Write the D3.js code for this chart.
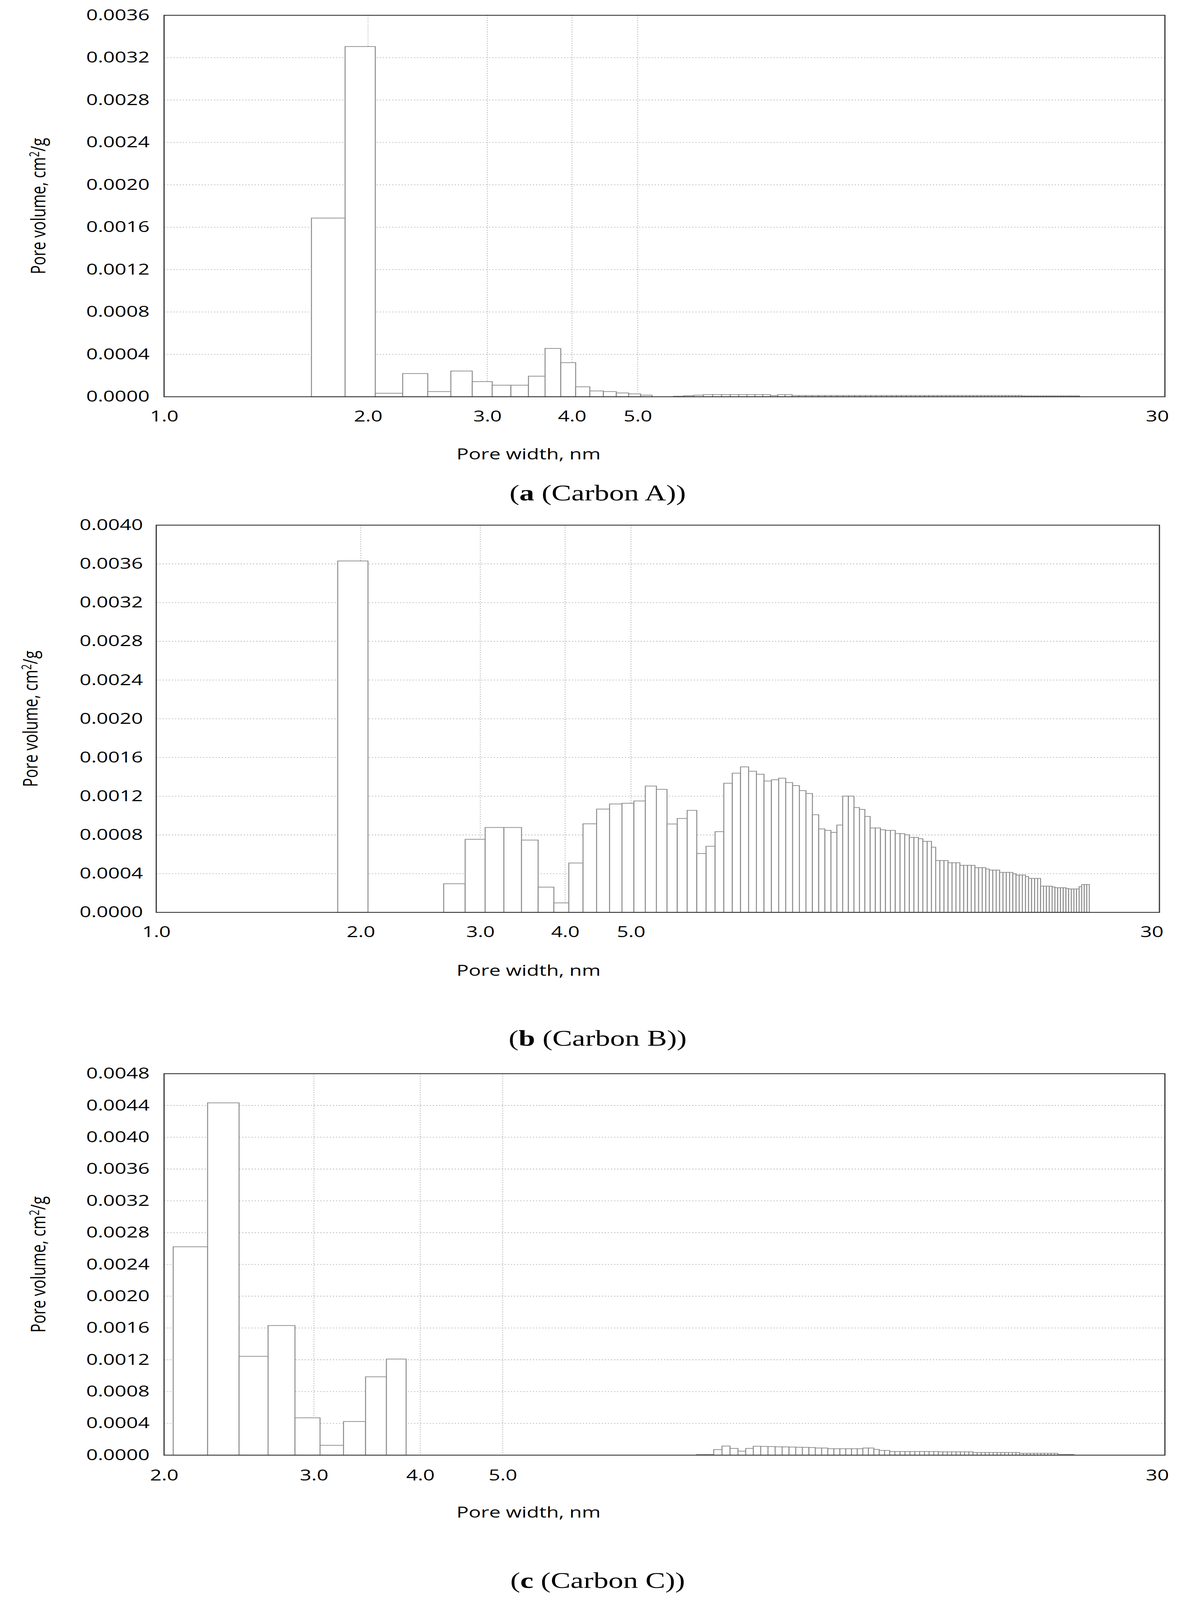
<!DOCTYPE html>
<html><head><meta charset="utf-8">
<script src="https://cdn.jsdelivr.net/npm/d3@7"></script>
<style>html,body{margin:0;padding:0;background:#fff;overflow:hidden;width:100%;height:100%}svg{display:block}</style>
</head><body>
<svg id="c" viewBox="0 0 3036 5545" preserveAspectRatio="none" style="width:100vw;height:100vh"></svg>
<script>
const BIN_WIDTH = 0.2;
// Carbon A
const carbonA_mainStart = 1.65;
const carbonA_main = [0.001686,0.003305,0.000033,0.000219,0.000049,0.000243,0.000143,0.000109,0.000109,0.000194,0.000456,0.000322,0.000094,0.000055,0.000049,0.000036,0.000027,0.000015];
const carbonA_tailStart = 5.65;
const carbonA_tail = [0.000005,0.00001,0.000015,0.00002,0.00002,0.00002,0.00002,0.00002,0.00002,0.00002,0.00002,0.000012,0.00002,0.00002,
 0.000012,0.000012,0.000012,0.000012,0.000012,0.000012,0.000012,0.000012,0.000012,0.000012,
 0.000012,0.000012,0.000012,0.000012,0.000012,0.000012,0.000012,0.000012,0.000012,0.000012,
 0.000012,0.000012,0.000012,0.000012,0.000012,0.000012,0.000012,0.000012,0.000012,0.000012,
 0.000012,0.000012,0.000012,0.000012,0.000012,0.000012,0.000012,0.000012,0.000012,0.000012,
 0.000012,0.000012,0.000012,0.000012,0.000012,0.000012,0.000012,0.000012,0.000012,0.000012,
 0.000008,0.000008,0.000008,0.000008,0.000008,0.000008,0.000008,0.000008,0.000008,0.000008,
 0.000008,0.000008,0.000008,0.000008,0.000008,0.000008,0.000008,0.000008,0.000008,0.000008];
// Carbon B
const carbonB_peakStart = 1.85;
const carbonB_peak = [0.00363];
const carbonB_mainStart = 2.65;
const carbonB_main = [0.000296,0.000755,0.000877,0.000877,0.000747,0.000261,0.000098,0.00051,0.000915,0.001067,0.00112,0.001127,0.001151,0.001305,0.001271,
 0.000913,0.00097,0.001054,0.000608,0.000683,0.000834,0.001334,0.001438,0.001503,0.001458,0.001427,0.001357,0.00137,0.001386,0.001341,0.00131,0.001258,0.001228,0.001009,0.000862,0.000847,0.000826,0.000902,0.001201,0.001201,0.001083,0.001064,0.000991,0.000872,0.000872,0.000853,0.000847,0.000847,0.000815,
 0.000813,0.000801,0.000775,0.000775,0.000761,0.000734,0.000734,0.000674,0.000536,0.000536,0.000536,0.000513,0.000513,0.000513,0.000486,0.000486,0.000486,0.000486,0.000462,0.000462,0.000462,0.000448,0.000437,0.000437,0.000437,0.000413,0.000413,0.000413,0.000413,0.000399,0.000386,0.000386,0.000386,0.00037,0.000351,0.000351,0.000351,0.000351,0.000271,0.000271,0.000271,0.000271,0.000263,0.000255,0.000255,0.000255,0.000255,0.000247,0.000242,0.000242,0.000242,0.000242,0.000266,0.000288,0.000288,0.000288];
// Carbon C
const carbonC_mainStart = 2.05;
const carbonC_main = [0.002622,0.004433,0.001243,0.001631,0.00047,0.000124,0.000423,0.000986,0.001209];
const carbonC_tailStart = 8.45;
const carbonC_tail = [0.000008,0.000008,0.00007,0.000115,0.000085,0.00005,0.000085,0.000112,0.00011,0.000108,0.000105,0.000104,0.000102,0.0001,0.000098,0.000096,0.00009,0.00009,
 0.000081,0.000081,0.000081,0.000081,0.000081,0.000081,0.00009,0.00009,0.000072,0.000059,0.000059,
 0.000046,0.000046,0.000046,0.000046,0.000046,0.000046,0.000046,0.000046,0.000046,0.000046,
 0.000042,0.000042,0.000042,0.000042,0.000042,0.000042,0.000042,0.000042,
 0.000033,0.000033,0.000033,0.000033,0.000033,0.000033,0.000033,0.000033,0.000033,0.000033,0.000033,0.000033,
 0.000023,0.000023,0.000023,0.000023,0.000023,0.000023,0.000023,0.000023,0.000023,0.000023,0.000023,
 0.000009,0.000009,0.000009,0.000009,0.000009];

const xTicksAB = [1,2,3,4,5,30];
const xTicksC = [2,3,4,5,30];
const xTickLabels = {1:"1.0",2:"2.0",3:"3.0",4:"4.0",5:"5.0",30:"30"};

const svg = d3.select("#c");
const font = "'Open Sans', sans-serif";

function bins(start, vals){
  return vals.map((v,i)=>({x0: Math.round((start+i*BIN_WIDTH)*100)/100, x1: Math.round((start+(i+1)*BIN_WIDTH)*100)/100, v}));
}

function panel(o){
  const g = svg.append("g");
  const x = d3.scaleLog().domain(o.xd).range([o.L,o.R]);
  const y = d3.scaleLinear().domain([0,o.ymax]).range([o.B,o.T]);
  const yt = d3.range(0, o.ymax+1e-9, 0.0004);
  g.selectAll(".hg").data(yt.slice(1)).join("line").attr("x1",o.L).attr("x2",o.R)
   .attr("y1",d=>y(d)).attr("y2",d=>y(d)).attr("stroke","#b8b8b8").attr("stroke-width",2.5).attr("stroke-dasharray","3,5");
  g.selectAll(".vg").data(o.xt.filter(t=>t>o.xd[0]&&t<o.xd[1])).join("line").attr("y1",o.T).attr("y2",o.B)
   .attr("x1",d=>x(d)).attr("x2",d=>x(d)).attr("stroke","#b8b8b8").attr("stroke-width",2.5).attr("stroke-dasharray","3,5");
  const data = o.groups.flatMap(gr=>bins(gr[0],gr[1]));
  g.selectAll(".bar").data(data).join("rect")
   .attr("x",d=>x(d.x0)).attr("width",d=>x(d.x1)-x(d.x0))
   .attr("y",d=>y(d.v)).attr("height",d=>o.B-y(d.v))
   .attr("fill","#fff").attr("stroke","#8c8c8c").attr("stroke-width",2.5);
  g.append("rect").attr("x",o.L).attr("y",o.T).attr("width",o.R-o.L).attr("height",o.B-o.T)
   .attr("fill","none").attr("stroke","#333").attr("stroke-width",3);
  const ya = d3.axisLeft(y).tickValues(yt).tickFormat(d3.format(".4f")).tickSize(0).tickPadding(0);
  const yg = g.append("g").attr("transform",`translate(${o.ylabX},0)`).call(ya);
  yg.select(".domain").remove();
  yg.selectAll("text").attr("font-family",font).attr("font-size",52).attr("fill","#000");
  const xa = d3.axisBottom(x).tickValues(o.xt).tickFormat(d=>xTickLabels[d]).tickSize(0).tickPadding(0);
  const xg = g.append("g").attr("transform",`translate(0,${o.xlabY})`).call(xa);
  xg.select(".domain").remove();
  xg.selectAll("text").attr("font-family",font).attr("font-size",52).attr("fill","#000").attr("dy","0.35em")
   .attr("text-anchor",d=>d===30?"end":"middle").attr("dx",d=>d===30?10:0);
  g.append("text").attr("x",1353).attr("y",o.xtitY).attr("dy","0.35em").attr("text-anchor","middle")
   .attr("font-family",font).attr("font-size",52).text("Pore width, nm");
  const yl = g.append("text").attr("transform",`translate(${o.ytitX},${(o.T+o.B)/2}) rotate(-90)`)
   .attr("dy","0.35em").attr("text-anchor","middle").attr("font-family",font).attr("font-size",52);
  yl.append("tspan").text("Pore volume, cm");
  yl.append("tspan").attr("font-size",34).attr("dy","-16").text("2");
  yl.append("tspan").attr("dy","16").text("/g");
  const cap = g.append("text").attr("x",1530).attr("y",o.capY).attr("dy","0.35em").attr("text-anchor","middle")
   .attr("font-family","'Liberation Serif', serif").attr("font-size",76);
  cap.append("tspan").text("(");
  cap.append("tspan").attr("font-weight","bold").text(o.letter);
  cap.append("tspan").text(" (" + o.name + "))");
}

panel({L:420,R:2982,T:53,B:1375,xd:[1,30],ymax:0.0036,xt:xTicksAB,ylabX:383,xlabY:1443,xtitY:1574,ytitX:98,capY:1707,letter:"a",name:"Carbon A",
  groups:[[carbonA_mainStart,carbonA_main],[carbonA_tailStart,carbonA_tail]]});
panel({L:400,R:2968,T:1820,B:3162,xd:[1,30],ymax:0.004,xt:xTicksAB,ylabX:366,xlabY:3230,xtitY:3363,ytitX:78,capY:3597,letter:"b",name:"Carbon B",
  groups:[[carbonB_peakStart,carbonB_peak],[carbonB_mainStart,carbonB_main]]});
panel({L:420,R:2982,T:3721,B:5043,xd:[2,30],ymax:0.0048,xt:xTicksC,ylabX:383,xlabY:5112,xtitY:5241,ytitX:98,capY:5476,letter:"c",name:"Carbon C",
  groups:[[carbonC_mainStart,carbonC_main],[carbonC_tailStart,carbonC_tail]]});
</script>
</body></html>
